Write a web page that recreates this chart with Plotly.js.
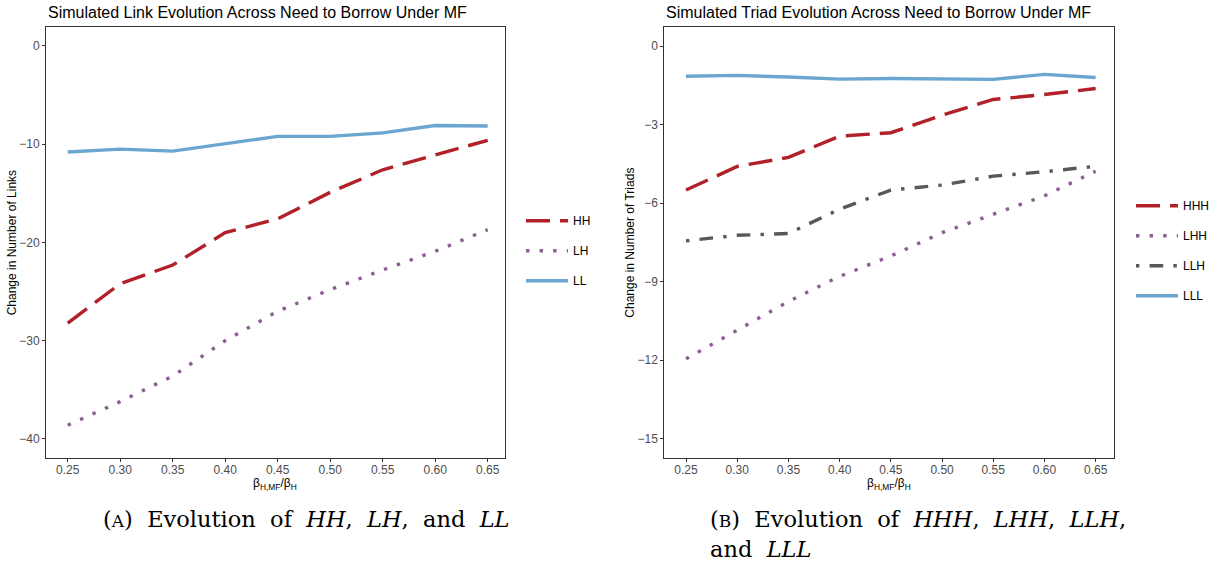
<!DOCTYPE html>
<html>
<head>
<meta charset="utf-8">
<script src="https://cdn.plot.ly/plotly-3.0.1.min.js"></script>
<style>html,body{margin:0;padding:0;background:#fff;}#chart{width:1215px;height:567px;}</style>
</head>
<body>
<div id="chart"></div>
<script>
// ---- data ----
const xVals = [0.25, 0.30, 0.35, 0.40, 0.45, 0.50, 0.55, 0.60, 0.65];

// Panel A: links
const linkNames = ["HH", "LH", "LL"];
const HH = [-28.2, -24.2, -22.3, -19.0, -17.6, -14.9, -12.6, -11.1, -9.6];
const LH = [-38.6, -36.2, -33.6, -30.0, -27.0, -24.8, -22.8, -20.9, -18.7];
const LL = [-10.8, -10.5, -10.7, -9.95, -9.2, -9.2, -8.85, -8.1, -8.15];

// Panel B: triads
const triadNames = ["HHH", "LHH", "LLH", "LLL"];
const HHH = [-5.5, -4.6, -4.25, -3.44, -3.31, -2.64, -2.04, -1.85, -1.62];
const LHH = [-11.95, -10.87, -9.76, -8.8, -8.02, -7.13, -6.41, -5.72, -4.78];
const LLH = [-7.44, -7.23, -7.16, -6.23, -5.5, -5.31, -4.97, -4.8, -4.59];
const LLL = [-1.15, -1.12, -1.18, -1.26, -1.24, -1.27, -1.27, -1.08, -1.2];

const xTickVals = [0.25, 0.30, 0.35, 0.40, 0.45, 0.50, 0.55, 0.60, 0.65];
const yTicksA = [0, -10, -20, -30, -40];
const yTicksB = [0, -3, -6, -9, -12, -15];

// ---- styles ----
const W = 1215, H = 567;
const RED = "#B2202A", PURPLE = "#8C5F93", BLUE = "#6AA6D0", GRAY = "#585858";
const LW = 3.4;
const dashLong = "24px,10px";
const dashDot = "3.4px,10.2px";
const dashDotDash = "3.4px,10.2px,13.6px,10.2px";

function tr(name, y, color, dash, xa, ya, leg) {
  return {
    x: xVals, y: y, name: name, type: "scatter", mode: "lines",
    line: {color: color, width: LW, dash: dash},
    xaxis: xa, yaxis: ya, legend: leg, legendgroup: name + xa,
    hoverinfo: "skip"
  };
}

const data = [
  tr(linkNames[0], HH, RED, dashLong, "x", "y", "legend"),
  tr(linkNames[1], LH, PURPLE, dashDot, "x", "y", "legend"),
  tr(linkNames[2], LL, BLUE, "solid", "x", "y", "legend"),
  tr(triadNames[0], HHH, RED, dashLong, "x2", "y2", "legend2"),
  tr(triadNames[1], LHH, PURPLE, dashDot, "x2", "y2", "legend2"),
  tr(triadNames[2], LLH, GRAY, dashDotDash, "x2", "y2", "legend2"),
  tr(triadNames[3], LLL, BLUE, "solid", "x2", "y2", "legend2")
];

const px = v => v / W;
const py = v => 1 - v / H;
const TOP = 27, BOT = 458.3;
const A_L = 46, A_R = 504.5, B_L = 664.3, B_R = 1114;

const tickFont = {family: "Liberation Sans, Arial, sans-serif", size: 12, color: "#4D4D4D"};
const titleFont = {family: "Liberation Sans, Arial, sans-serif", size: 12, color: "#000"};

function xaxis(dom, range) {
  return {
    domain: dom, range: range, tickvals: xTickVals, tickformat: ".2f",
    ticks: "outside", ticklen: 3, tickwidth: 1, tickcolor: "#333",
    ticklabelstandoff: -3,
    showline: true, linecolor: "#333", linewidth: 1, mirror: true,
    showgrid: false, zeroline: false, tickfont: tickFont,
    fixedrange: true
  };
}
function yaxis(anchor, range, tv, name) {
  return {
    anchor: anchor, domain: [py(BOT), py(TOP)], range: range, tickvals: tv,
    ticks: "outside", ticklen: 3, tickwidth: 1, tickcolor: "#333",
    showline: true, linecolor: "#333", linewidth: 1, mirror: true,
    showgrid: false, zeroline: false, tickfont: tickFont,
    title: {text: name, font: titleFont, standoff: 0},
    fixedrange: true
  };
}

const legBase = {
  yanchor: "middle", y: py(250.7), xanchor: "left",
  font: {family: "Liberation Sans, Arial, sans-serif", size: 12, color: "#000"},
  bgcolor: "rgba(0,0,0,0)", tracegroupgap: 11, itemwidth: 42,
  traceorder: "grouped"
};

const capFont = {family: "DejaVu Serif, Liberation Serif, serif", size: 22.5, color: "#000"};
const ttlFont = {family: "Liberation Sans, Arial, sans-serif", size: 16, color: "#000"};

function ann(text, x, y, font, xanchor) {
  return {text: text, xref: "paper", yref: "paper", x: px(x), y: py(y),
          xanchor: xanchor || "left", yanchor: "middle", align: "left", showarrow: false, font: font};
}
const S = "\u00A0 ";  // wide inter-word space (LaTeX-like spacing)
const sc = l => "<span style=\"font-size:17px\">" + l + "</span>";
const xTitle = "β<sub>H,MF</sub>/β<sub>H</sub>";

const layout = {
  width: W, height: H,
  margin: {l: 0, r: 0, t: 0, b: 0, autoexpand: false},
  paper_bgcolor: "#fff", plot_bgcolor: "#fff",
  showlegend: true,
  xaxis: Object.assign(xaxis([px(A_L), px(A_R)], [0.2293, 0.666]), {anchor: "y"}),
  yaxis: yaxis("x", [-41.97, 1.93], yTicksA, "Change in Number of Links"),
  xaxis2: Object.assign(xaxis([px(B_L), px(B_R)], [0.2288, 0.6679]), {anchor: "y2"}),
  yaxis2: yaxis("x2", [-15.75, 0.73], yTicksB, "Change in Number of Triads"),
  legend: Object.assign({}, legBase, {x: px(521)}),
  legend2: Object.assign({}, legBase, {x: px(1131)}),
  annotations: [
    ann("Simulated Link Evolution Across Need to Borrow Under MF", A_L, 12, ttlFont),
    ann("Simulated Triad Evolution Across Need to Borrow Under MF", B_L, 12, ttlFont),
    ann(xTitle, (A_L + A_R) / 2, 484, titleFont, "center"),
    ann(xTitle, (B_L + B_R) / 2, 484, titleFont, "center"),
    ann("(" + sc("A") + ")" + S + "Evolution" + S + "of" + S + "<i>HH</i>," + S + "<i>LH</i>," + S + "and" + S + "<i>LL</i>", 101, 519, capFont),
    ann("(" + sc("B") + ")" + S + "Evolution" + S + "of" + S + "<i>HHH</i>," + S + "<i>LHH</i>," + S + "<i>LLH</i>,", 708, 519, capFont),
    ann("and" + S + "<i>LLL</i>", 708, 549, capFont)
  ]
};

Plotly.newPlot("chart", data, layout, {displayModeBar: false, staticPlot: true});
</script>
</body>
</html>
